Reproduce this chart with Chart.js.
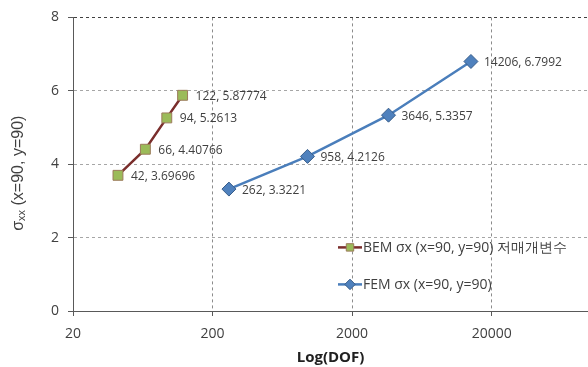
<!DOCTYPE html>
<html>
<head>
<meta charset="utf-8">
<script src="https://cdn.jsdelivr.net/npm/chart.js@4.4.1/dist/chart.umd.min.js"></script>
<style>
  html, body { margin: 0; padding: 0; background: #fff; overflow: hidden; }
  #wrap { width: 588px; height: 367px; position: relative; }
</style>
</head>
<body>
<div id="wrap"><canvas id="sigmaChart"></canvas></div>
<script>
const bemDof = [42, 66, 94, 122];
const bemSigma = [3.69696, 4.40766, 5.2613, 5.87774];
const femDof = [262, 958, 3646, 14206];
const femSigma = [3.3221, 4.2126, 5.3357, 6.7992];
const seriesNames = ['BEM σx (x=90, y=90) 저매개변수', 'FEM σx (x=90, y=90)'];
const xTicks = [20, 200, 2000, 20000];
const yTicks = [0, 2, 4, 6, 8];
const xMin = 20;
const xMax = 98000; // axis runs on past the right edge of the picture
const xTitle = 'Log(DOF)';

const FONT = '"Open Sans", "Liberation Sans", sans-serif';
const TEXT = '#404040';

function toPoints(xs, ys) {
  return xs.map((x, i) => ({ x: x, y: ys[i] }));
}

// "x, y" labels to the right of each marker
const pointLabels = {
  id: 'pointLabels',
  afterDatasetsDraw(chart) {
    const ctx = chart.ctx;
    ctx.save();
    ctx.font = '12px ' + FONT;
    ctx.fillStyle = TEXT;
    ctx.textBaseline = 'middle';
    ctx.textAlign = 'left';
    chart.data.datasets.forEach((ds, di) => {
      chart.getDatasetMeta(di).data.forEach((pt, i) => {
        const v = ds.data[i];
        ctx.fillText(v.x + ', ' + v.y, pt.x + 13, pt.y + 1);
      });
    });
    ctx.restore();
  }
};

// legend sitting inside the plot, no box
const innerLegend = {
  id: 'innerLegend',
  afterDraw(chart) {
    const ctx = chart.ctx;
    const a = chart.chartArea;
    const x0 = a.left + 265;
    const rows = [a.top + 230, a.top + 267];
    ctx.save();
    chart.data.datasets.forEach((ds, i) => {
      const y = rows[i];
      ctx.strokeStyle = ds.borderColor;
      ctx.lineWidth = 2.5;
      ctx.beginPath();
      ctx.moveTo(x0, y);
      ctx.lineTo(x0 + 24, y);
      ctx.stroke();
      ctx.fillStyle = ds.pointBackgroundColor;
      ctx.strokeStyle = ds.pointBorderColor;
      ctx.lineWidth = 1;
      Chart.helpers.drawPoint(ctx, {
        pointStyle: ds.pointStyle,
        radius: ds.pointRadius * 0.75,
        borderWidth: 1
      }, x0 + 12, y);
      ctx.font = '14px ' + FONT;
      ctx.fillStyle = TEXT;
      ctx.textBaseline = 'middle';
      ctx.textAlign = 'left';
      ctx.fillText(ds.label, x0 + 25, y + 1);
    });
    ctx.restore();
  }
};

// rotated y title with the "xx" subscript
const yTitle = {
  id: 'yTitle',
  afterDraw(chart) {
    const ctx = chart.ctx;
    const a = chart.chartArea;
    const cy = (a.top + a.bottom) / 2 + 9;
    const parts = [
      { t: 'σ', size: 16, dy: 0 },
      { t: 'xx', size: 11, dy: 2 },
      { t: ' (x=90, y=90)', size: 16, dy: 0 }
    ];
    ctx.save();
    ctx.translate(23, cy);
    ctx.rotate(-Math.PI / 2);
    ctx.fillStyle = TEXT;
    ctx.textBaseline = 'alphabetic';
    ctx.textAlign = 'left';
    let total = 0;
    parts.forEach(p => {
      ctx.font = p.size + 'px "Liberation Sans", sans-serif';
      p.w = ctx.measureText(p.t).width;
      total += p.w;
    });
    let x = -total / 2;
    parts.forEach(p => {
      ctx.font = p.size + 'px "Liberation Sans", sans-serif';
      ctx.fillText(p.t, x, p.dy);
      x += p.w;
    });
    ctx.restore();
  }
};

const ctx = document.getElementById('sigmaChart').getContext('2d');

new Chart(ctx, {
  type: 'line',
  data: {
    datasets: [
      {
        label: seriesNames[0],
        data: toPoints(bemDof, bemSigma),
        borderColor: '#7A2E2C',
        borderWidth: 2.5,
        pointStyle: 'rect',
        pointRadius: 7,
        pointBackgroundColor: '#9BBB59',
        pointBorderColor: '#9C7B5B',
        pointBorderWidth: 1,
        tension: 0
      },
      {
        label: seriesNames[1],
        data: toPoints(femDof, femSigma),
        borderColor: '#4A7EBB',
        borderWidth: 2.5,
        pointStyle: 'rectRot',
        pointRadius: 7,
        pointBackgroundColor: '#4F81BD',
        pointBorderColor: '#385D8A',
        pointBorderWidth: 1,
        tension: 0
      }
    ]
  },
  options: {
    responsive: true,
    maintainAspectRatio: false,
    animation: false,
    layout: { autoPadding: false, padding: { top: 15, right: 0, left: 0, bottom: 0 } },
    plugins: {
      legend: { display: false },
      tooltip: { enabled: false }
    },
    scales: {
      x: {
        type: 'logarithmic',
        min: xMin,
        max: xMax,
        afterBuildTicks: scale => { scale.ticks = xTicks.map(v => ({ value: v })); },
        afterFit: scale => {
          scale.height = 56;
          scale.paddingRight = 0;
          scale.paddingLeft = 0;
        },
        ticks: {
          callback: v => String(v),
          color: TEXT,
          font: { family: FONT, size: 14 },
          padding: 10,
          maxRotation: 0,
          autoSkip: false
        },
        grid: {
          color: '#8C8C8C',
          tickColor: '#595959',
          tickLength: 5,
          tickBorderDash: []
        },
        border: { display: true, color: '#595959', width: 1, dash: [3, 3] },
        title: {
          display: true,
          text: xTitle,
          color: '#202020',
          font: { family: FONT, size: 15, weight: 'bold' },
          padding: { top: 0, bottom: 0 }
        }
      },
      y: {
        min: 0,
        max: 8,
        afterBuildTicks: scale => { scale.ticks = yTicks.map(v => ({ value: v })); },
        afterFit: scale => { scale.width = 73; },
        ticks: {
          color: TEXT,
          font: { family: FONT, size: 14 },
          padding: 9
        },
        grid: {
          color: ctx => ctx.tick && ctx.tick.value === 8 ? '#404040' : '#A6A6A6',
          tickColor: '#595959',
          tickLength: 5,
          tickBorderDash: []
        },
        border: { display: true, color: '#595959', width: 1, dash: [3, 3] }
      }
    }
  },
  plugins: [pointLabels, innerLegend, yTitle]
});
</script>
</body>
</html>
